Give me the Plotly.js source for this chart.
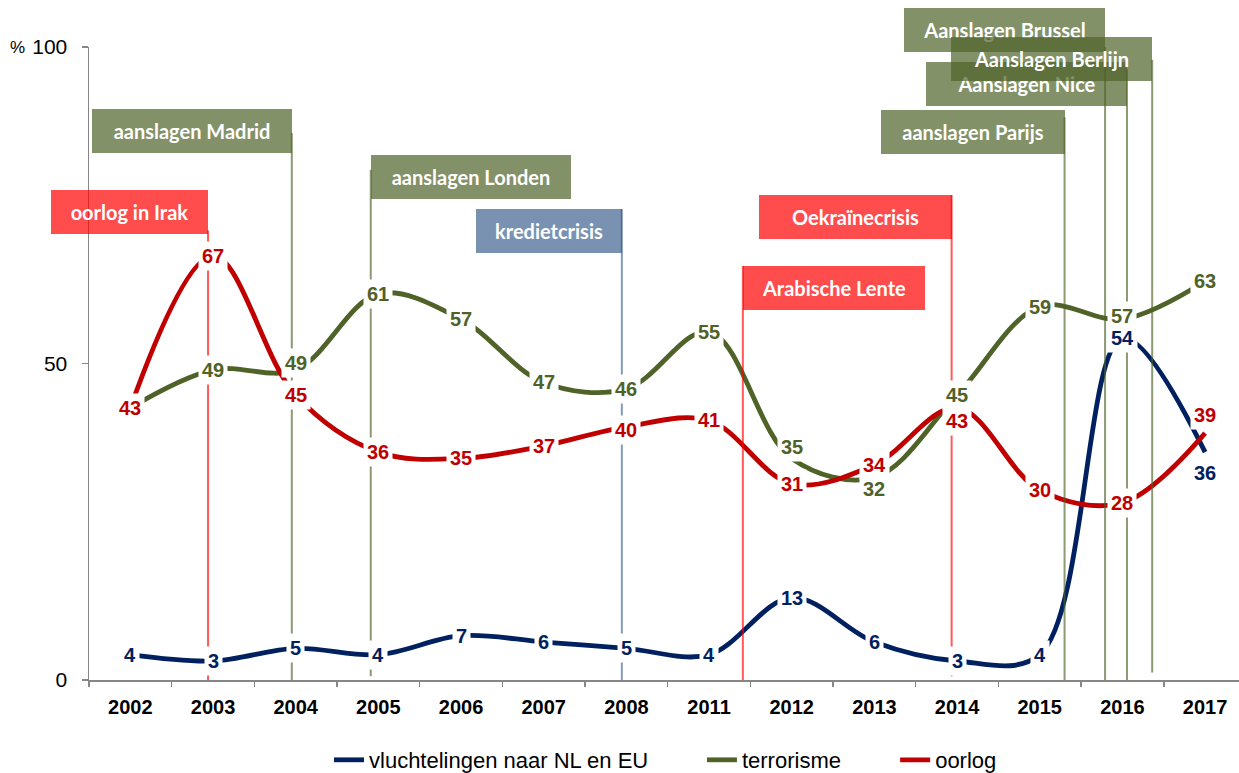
<!DOCTYPE html>
<html>
<head>
<meta charset="utf-8">
<script src="https://cdn.plot.ly/plotly-3.0.1.min.js"></script>
<style>html,body{margin:0;padding:0;background:#fff;}#chart{width:1239px;height:773px;}</style>
</head>
<body>
<div id="chart"></div>
<script>
// ---- data ----
const categories = ['2002','2003','2004','2005','2006','2007','2008','2011','2012','2013','2014','2015','2016','2017'];
const vluchtelingen = [4, 3, 5, 4, 7, 6, 5, 4, 13, 6, 3, 4, 54, 36];
const terrorisme    = [43, 49, 49, 61, 57, 47, 46, 55, 35, 32, 45, 59, 57, 63];
const oorlog        = [43, 67, 45, 36, 35, 37, 40, 41, 31, 34, 43, 30, 28, 39];
const seriesNames = ['vluchtelingen naar NL en EU', 'terrorisme', 'oorlog'];
const yTicks = [0, 50, 100];

// events (position on category scale)
const eventNames = ['oorlog in Irak','aanslagen Madrid','aanslagen Londen','kredietcrisis','Arabische Lente','Oekraïnecrisis','aanslagen Parijs','Aanslagen Brussel','Aanslagen Nice','Aanslagen Berlijn'];
const eventPos   = [0.94, 1.953, 2.908, 5.945, 7.409, 9.934, 11.30, 11.79, 12.055, 12.36];
const eventKind  = ['oorlog','terror','terror','krediet','oorlog','oorlog','terror','terror','terror','terror'];

// ---- styling ----
const seriesColors = ['#002060', '#4F6228', '#C00000'];
const kindBox  = {oorlog:'rgba(255,0,0,0.70)', terror:'rgba(79,98,40,0.70)', krediet:'rgba(31,73,125,0.60)'};
const kindLine = {oorlog:'rgba(255,0,0,0.65)', terror:'rgba(79,98,40,0.65)', krediet:'rgba(31,73,125,0.55)'};
const boxSide  = ['right','right','left','right','left','right','right','right','right','right'];
const boxWidth = [157, 200, 200, 146, 182, 193, 184, 201, 201, 201];
const boxY     = [0.740, 0.867, 0.794, 0.709, 0.620, 0.731, 0.866, 1.027, 0.942, 0.981];
const lineTop  = [71, 86.4, 80.6, 74.4, 65.4, 76.6, 88.9, 100, 96.5, 98];
const lineBottom = [0, 0, 0.6, 0, 0, 0.6, 0, 0, 0, 1.2];
const labelShift = [
  [0,0,0,0,0,0,0,0,0,0,0,0,0,-21],
  [0,0,7,0,0,0,0,0,11,-12,0,0,3,0],
  [0,0,0,0,0,0,-3,0,0,0,-13,0,0,18]
];
const labelShow = [
  [1,1,1,1,1,1,1,1,1,1,1,1,1,1],
  [0,1,1,1,1,1,1,1,1,1,1,1,1,1],
  [1,1,1,1,1,1,1,1,1,1,1,1,1,1]
];

const allSeries = [vluchtelingen, terrorisme, oorlog];
const legendIds = ['legend', 'legend2', 'legend3'];

const traces = allSeries.map((vals, s) => ({
  type: 'scatter', mode: 'lines', x: categories, y: vals, name: seriesNames[s],
  line: {color: seriesColors[s], width: 4.8, shape: 'spline', smoothing: 1},
  legend: legendIds[s], hoverinfo: 'skip'
}));

const shapes = eventPos.map((p, i) => ({
  type: 'line', xref: 'x', yref: 'y', x0: p, x1: p, y0: lineBottom[i], y1: lineTop[i],
  line: {color: kindLine[eventKind[i]], width: 2}, layer: 'above'
}));

const annotations = [];
// data labels
allSeries.forEach((vals, s) => {
  vals.forEach((v, i) => {
    if (!labelShow[s][i]) return;
    annotations.push({
      xref: 'x', yref: 'y', x: i, y: v, text: String(v), showarrow: false,
      yshift: labelShift[s][i], bgcolor: '#ffffff', borderpad: 3,
      font: {family: 'Liberation Sans, Arial, sans-serif', size: 20, color: seriesColors[s], weight: 'bold'}
    });
  });
});
// event boxes
eventNames.forEach((n, i) => {
  annotations.push({
    xref: 'x', yref: 'paper', x: eventPos[i], y: boxY[i], text: n, showarrow: false,
    xanchor: boxSide[i], yanchor: 'middle', width: boxWidth[i], height: 44, borderpad: 0, borderwidth: 0,
    bgcolor: kindBox[eventKind[i]], align: 'center', valign: 'middle',
    font: {family: 'Lato, "Open Sans", sans-serif', size: 20, color: '#ffffff', weight: 'bold'}
  });
});
// percent sign
annotations.push({xref: 'paper', yref: 'paper', x: -0.062, y: 1, xanchor: 'center', yanchor: 'middle',
  text: '%', showarrow: false, font: {family: 'Liberation Sans, Arial, sans-serif', size: 17, color: '#000'}});

const legendBase = {orientation: 'h', yanchor: 'middle', xanchor: 'left', yref: 'container', y: 0.0168,
  bgcolor: 'rgba(0,0,0,0)', borderwidth: 0,
  font: {family: 'Liberation Sans, Arial, sans-serif', size: 22, color: '#000'}};

const layout = {
  width: 1239, height: 773,
  margin: {l: 89, r: 0, t: 47, b: 93},
  paper_bgcolor: '#fff', plot_bgcolor: '#fff',
  showlegend: true,
  legend:  Object.assign({}, legendBase, {x: 0.2087}),
  legend2: Object.assign({}, legendBase, {x: 0.533}),
  legend3: Object.assign({}, legendBase, {x: 0.701}),
  xaxis: {
    type: 'category', categoryorder: 'array', categoryarray: categories, automargin: false,
    range: [-0.5, 13.41], tickson: 'boundaries', ticks: 'outside', ticklen: 5, tickwidth: 1.5,
    tickcolor: '#868686', showline: true, linecolor: '#868686', linewidth: 1.5,
    showgrid: false, zeroline: false, ticklabelstandoff: 8,
    tickfont: {family: 'Liberation Sans, Arial, sans-serif', size: 20, color: '#000', weight: 'bold'}
  },
  yaxis: {
    range: [0, 100], tickvals: yTicks, ticktext: yTicks.map(String), ticks: 'outside', ticklen: 6, tickwidth: 1.5,
    tickcolor: '#868686', showline: true, linecolor: '#868686', linewidth: 1.5, automargin: false,
    showgrid: false, zeroline: false, ticklabelstandoff: 10,
    tickfont: {family: 'Liberation Sans, Arial, sans-serif', size: 21, color: '#000'}
  },
  shapes: shapes,
  annotations: annotations
};

Plotly.newPlot('chart', traces, layout, {staticPlot: true, displayModeBar: false});
</script>
</body>
</html>
